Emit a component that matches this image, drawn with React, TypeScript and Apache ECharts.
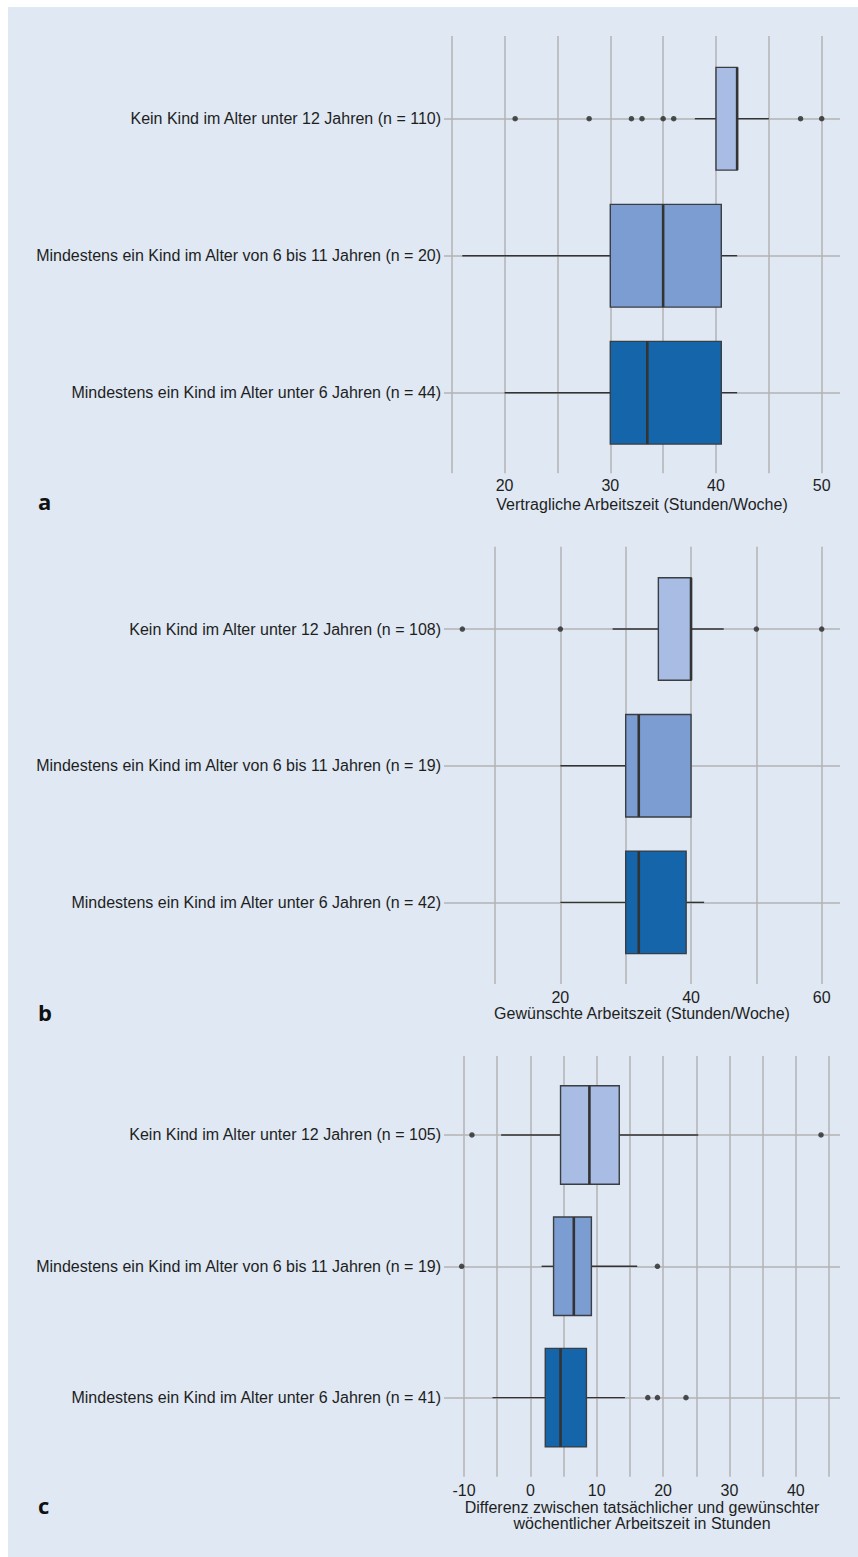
import React, { useEffect, useRef } from "react";
import * as echarts from "echarts";

// ---------------- DATA ----------------
// box stats: [lower whisker, Q1, median, Q3, upper whisker]
const categoriesA = [
  "Kein Kind im Alter unter 12 Jahren (n = 110)",
  "Mindestens ein Kind im Alter von 6 bis 11 Jahren (n = 20)",
  "Mindestens ein Kind im Alter unter 6 Jahren (n = 44)",
];
const boxStatsA = [
  [38, 40, 42, 42, 45],
  [16, 30, 35, 40.5, 42],
  [20, 30, 33.5, 40.5, 42],
];
// outliers: [value, category index]
const outliersA = [
  [21, 0], [28, 0], [32, 0], [33, 0], [35, 0], [36, 0], [48, 0], [50, 0],
];
const tickLabelsA = [20, 30, 40, 50];
const titleA = "Vertragliche Arbeitszeit (Stunden/Woche)";

const categoriesB = [
  "Kein Kind im Alter unter 12 Jahren (n = 108)",
  "Mindestens ein Kind im Alter von 6 bis 11 Jahren (n = 19)",
  "Mindestens ein Kind im Alter unter 6 Jahren (n = 42)",
];
const boxStatsB = [
  [28, 35, 40, 40, 45],
  [20, 30, 32, 40, 40],
  [20, 30, 32, 39.25, 42],
];
const outliersB = [
  [5, 0], [20, 0], [50, 0], [60, 0],
];
const tickLabelsB = [20, 40, 60];
const titleB = "Gewünschte Arbeitszeit (Stunden/Woche)";

const categoriesC = [
  "Kein Kind im Alter unter 12 Jahren (n = 105)",
  "Mindestens ein Kind im Alter von 6 bis 11 Jahren (n = 19)",
  "Mindestens ein Kind im Alter unter 6 Jahren (n = 41)",
];
const boxStatsC = [
  [-4.4, 4.55, 8.9, 13.4, 25.3],
  [1.7, 3.5, 6.55, 9.2, 16.1],
  [-5.7, 2.25, 4.55, 8.45, 14.25],
];
const outliersC = [
  [-8.8, 0], [43.8, 0],
  [-10.35, 1], [19.15, 1],
  [17.7, 2], [19.15, 2], [23.45, 2],
];
const tickLabelsC = [-10, 0, 10, 20, 30, 40];
const titleC = "Differenz zwischen tatsächlicher und gewünschter\nwöchentlicher Arbeitszeit in Stunden";

// gridline ranges (axis ticks)
const gridTicksA = { min: 15, max: 50, step: 5 };
const gridTicksB = { min: 10, max: 60, step: 10 };
const gridTicksC = { min: -10, max: 45, step: 5 };

const panelLetters = ["a", "b", "c"];

// ---------------- LAYOUT / STYLE ----------------
const FONT = "'Liberation Sans', Arial, Helvetica, sans-serif";
const TEXT = "#1e1e1e";
const LINE_GRAY = "#b3b3b3";
const DARK = "#333333";
const BG = "#dfe8f3";
const BOX_COLORS = ["#a9bde4", "#7b9dd2", "#1565ab"];
const PLOT_L = 444;
const PLOT_R = 840;

const layouts = [
  { xMin: 14.27, xMax: 51.73, gTop: 36, gBottom: 473.3, bTop: 50.2, bHeight: 411, nameGap: 35, labelMargin: 4, letterY: 502 },
  { xMin: 2.19, xMax: 62.8, gTop: 546.7, gBottom: 984, bTop: 560.7, bHeight: 410, nameGap: 35, labelMargin: 5, letterY: 1013 },
  { xMin: -13.01, xMax: 46.66, gTop: 1056, gBottom: 1476.7, bTop: 1069.3, bHeight: 394, nameGap: 36, labelMargin: 6, letterY: 1506 },
];

const panels = [
  { categories: categoriesA, boxes: boxStatsA, outliers: outliersA, tickLabels: tickLabelsA, title: titleA, ticks: gridTicksA },
  { categories: categoriesB, boxes: boxStatsB, outliers: outliersB, tickLabels: tickLabelsB, title: titleB, ticks: gridTicksB },
  { categories: categoriesC, boxes: boxStatsC, outliers: outliersC, tickLabels: tickLabelsC, title: titleC, ticks: gridTicksC },
];

function buildOption() {
  const grid: any[] = [];
  const xAxis: any[] = [];
  const yAxis: any[] = [];
  const series: any[] = [];
  const graphic: any[] = [];

  panels.forEach((p, i) => {
    const L = layouts[i];
    const ppx = (PLOT_R - PLOT_L) / (L.xMax - L.xMin);
    const aLeft = PLOT_L + (p.ticks.min - L.xMin) * ppx;
    const aRight = PLOT_L + (p.ticks.max - L.xMin) * ppx;
    const ga = 2 * i;
    const gb = 2 * i + 1;

    grid.push({ left: aLeft, width: aRight - aLeft, top: L.gTop, height: L.gBottom - L.gTop, containLabel: false });
    grid.push({ left: PLOT_L, width: PLOT_R - PLOT_L, top: L.bTop, height: L.bHeight, containLabel: false });

    xAxis.push({
      gridIndex: ga,
      type: "value",
      min: p.ticks.min,
      max: p.ticks.max,
      interval: p.ticks.step,
      axisLine: { show: false },
      axisTick: { show: false },
      splitLine: { show: true, lineStyle: { color: LINE_GRAY, width: 1.5 } },
      axisLabel: {
        margin: L.labelMargin,
        fontSize: 16,
        color: TEXT,
        fontFamily: FONT,
        formatter: (v: number) => (p.tickLabels.includes(v) ? String(v) : ""),
      },
    });
    xAxis.push({
      gridIndex: gb,
      type: "value",
      min: L.xMin,
      max: L.xMax,
      axisLine: { show: false },
      axisTick: { show: false },
      axisLabel: { show: false },
      splitLine: { show: false },
      name: p.title,
      nameLocation: "middle",
      nameGap: L.nameGap,
      nameTextStyle: { fontSize: 16, lineHeight: 16, color: TEXT, fontFamily: FONT, align: "center", verticalAlign: "top" },
    });
    yAxis.push({ gridIndex: ga, type: "value", min: 0, max: 1, show: false });
    yAxis.push({
      gridIndex: gb,
      type: "category",
      data: p.categories,
      inverse: true,
      axisLine: { show: false },
      axisTick: { show: false },
      splitLine: { show: false },
      axisLabel: { margin: 3, fontSize: 16, color: TEXT, fontFamily: FONT },
    });

    series.push({
      type: "scatter",
      xAxisIndex: gb,
      yAxisIndex: gb,
      data: [],
      silent: true,
      z: 1,
      markLine: {
        silent: true,
        z: 1,
        symbol: ["none", "none"],
        label: { show: false },
        emphasis: { disabled: true },
        lineStyle: { color: LINE_GRAY, width: 1.5, type: "solid" },
        data: p.categories.map((_, k) => ({ yAxis: k })),
      },
    });

    series.push({
      type: "custom",
      xAxisIndex: gb,
      yAxisIndex: gb,
      z: 2,
      silent: true,
      encode: { x: [1, 2, 3, 4, 5], y: 0 },
      data: p.boxes.map((b, k) => [k, ...b]),
      renderItem: (params: any, api: any) => {
        const cat = api.value(0);
        const lo = api.coord([api.value(1), cat]);
        const q1 = api.coord([api.value(2), cat]);
        const med = api.coord([api.value(3), cat]);
        const q3 = api.coord([api.value(4), cat]);
        const hi = api.coord([api.value(5), cat]);
        const band = api.size([0, 1])[1];
        const h = band * 0.75;
        const y = q1[1];
        const children: any[] = [];
        if (lo[0] < q1[0]) {
          children.push({ type: "line", shape: { x1: lo[0], y1: y, x2: q1[0], y2: y }, style: { stroke: DARK, lineWidth: 1.4 } });
        }
        if (hi[0] > q3[0]) {
          children.push({ type: "line", shape: { x1: q3[0], y1: y, x2: hi[0], y2: y }, style: { stroke: DARK, lineWidth: 1.4 } });
        }
        children.push({
          type: "rect",
          shape: { x: q1[0], y: y - h / 2, width: q3[0] - q1[0], height: h },
          style: { fill: BOX_COLORS[params.dataIndex], stroke: "#3a3d42", lineWidth: 1.4 },
        });
        children.push({
          type: "line",
          shape: { x1: med[0], y1: y - h / 2, x2: med[0], y2: y + h / 2 },
          style: { stroke: DARK, lineWidth: 2.6 },
        });
        return { type: "group", children };
      },
    });

    series.push({
      type: "scatter",
      xAxisIndex: gb,
      yAxisIndex: gb,
      z: 3,
      silent: true,
      symbol: "circle",
      symbolSize: 5.5,
      itemStyle: { color: "#262626" },
      data: p.outliers,
    });

    graphic.push({
      type: "text",
      left: 38,
      top: L.letterY - 12,
      style: { text: panelLetters[i], font: "bold 22px 'Open Sans', 'Noto Sans', sans-serif", fill: "#111" },
    });
  });

  return {
    animation: false,
    backgroundColor: "transparent",
    grid,
    xAxis,
    yAxis,
    series,
    graphic,
  };
}

export default function App() {
  const ref = useRef<HTMLDivElement | null>(null);
  useEffect(() => {
    const pageBg =
      "linear-gradient(#ffffff, #ffffff) no-repeat 0 0 / 100% 7px, " +
      "linear-gradient(#ffffff, #ffffff) no-repeat 0 0 / 8px 100%, " +
      BG;
    document.body.style.margin = "0";
    document.body.style.overflow = "hidden";
    document.documentElement.style.background = pageBg;
    document.documentElement.style.minHeight = "100%";
    if (!ref.current) return;
    const chart = echarts.init(ref.current, undefined, { renderer: "svg" });
    chart.setOption(buildOption() as any);
    return () => {
      chart.dispose();
    };
  }, []);
  return <div ref={ref} style={{ width: 858, height: 1557 }} />;
}
